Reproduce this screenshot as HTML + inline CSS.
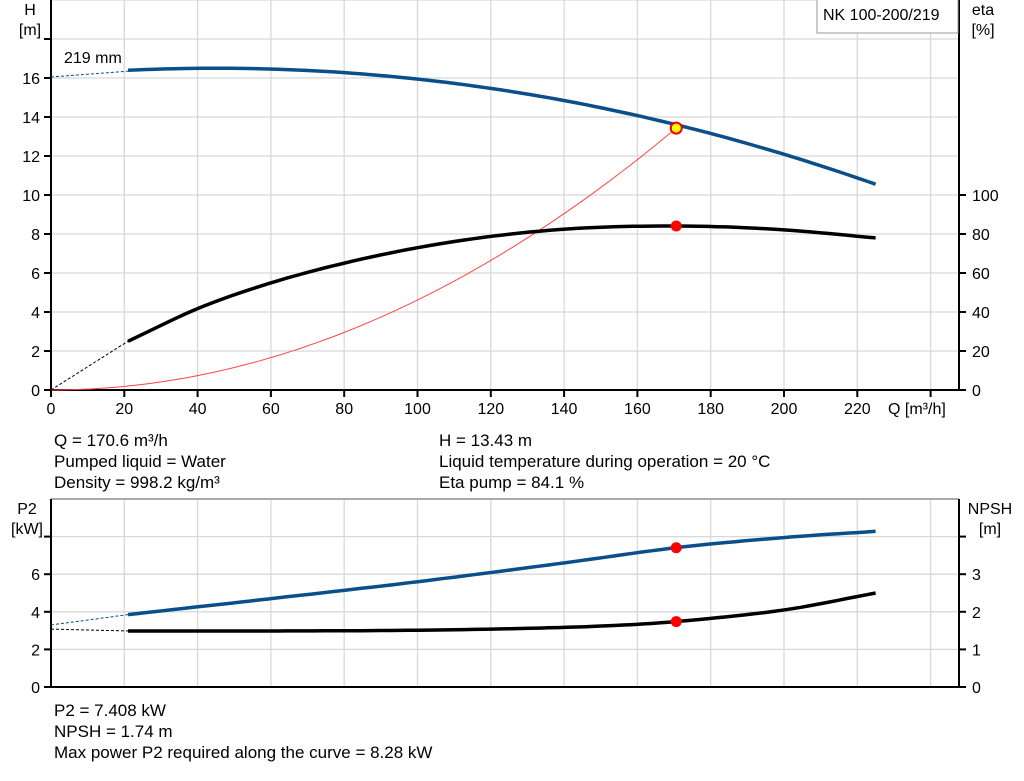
<!DOCTYPE html>
<html><head><meta charset="utf-8"><style>
html,body{margin:0;padding:0;background:#fff;width:1024px;height:781px;overflow:hidden}
svg{display:block;font-family:"Liberation Sans",Arial,sans-serif}
</style></head><body>
<svg id="s" width="1024" height="781" viewBox="0 0 1024 781" xmlns="http://www.w3.org/2000/svg"></svg>
<script>
const S=document.getElementById('s');let h='';
const X=q=>51+q*3.665;
const YH=v=>390-v*19.5, YE=v=>390-v*1.95, YP=v=>687-v*18.8, YN=v=>687-v*37.6;
for(let q=20;q<=240;q+=20){h+=`<line x1="${X(q)}" y1="0" x2="${X(q)}" y2="390" stroke="#d8d8d8" stroke-width="1.3"/>`;
 h+=`<line x1="${X(q)}" y1="499" x2="${X(q)}" y2="687" stroke="#d8d8d8" stroke-width="1.3"/>`;}
for(let v=2;v<=20;v+=2)h+=`<line x1="51" y1="${YH(v)}" x2="959" y2="${YH(v)}" stroke="#d8d8d8" stroke-width="1.3"/>`;
for(let v=2;v<=8;v+=2)h+=`<line x1="51" y1="${YP(v)}" x2="959" y2="${YP(v)}" stroke="#d8d8d8" stroke-width="1.3"/>`;
h+=`<line x1="51" y1="499" x2="959" y2="499" stroke="#aaa" stroke-width="2"/>`;
const ax='stroke="#000" stroke-width="2"';
h+=`<line x1="51" y1="0" x2="51" y2="391" ${ax}/><line x1="959" y1="0" x2="959" y2="391" ${ax}/><line x1="50" y1="390" x2="960" y2="390" ${ax}/>`;
h+=`<line x1="51" y1="499" x2="51" y2="688" ${ax}/><line x1="959" y1="499" x2="959" y2="688" ${ax}/><line x1="50" y1="687" x2="960" y2="687" ${ax}/>`;
const T=(x,y,t,a='end',fs=16)=>`<text x="${x}" y="${y}" font-size="${fs}" text-anchor="${a}" fill="#000">${t}</text>`;
for(let v=0;v<=18;v+=2){h+=`<line x1="44" y1="${YH(v)}" x2="51" y2="${YH(v)}" ${ax}/>`;if(v<=16)h+=T(40,YH(v)+6,v);}
for(let v=0;v<=100;v+=20){h+=`<line x1="959" y1="${YE(v)}" x2="966" y2="${YE(v)}" ${ax}/>`;h+=T(972,YE(v)+6,v,'start');}
for(let q=0;q<=240;q+=20){h+=`<line x1="${X(q)}" y1="390" x2="${X(q)}" y2="397" ${ax}/>`;if(q<=220)h+=T(X(q),414,q,'middle');}
h+=T(888,414,'Q [m³/h]','start');
h+=T(30,15,'H','middle')+T(30,35,'[m]','middle')+T(983,15,'eta','middle')+T(983,35,'[%]','middle');
for(let v=0;v<=8;v+=2){h+=`<line x1="44" y1="${YP(v)}" x2="51" y2="${YP(v)}" ${ax}/>`;if(v<=6)h+=T(40,YP(v)+6,v);}
for(let v=0;v<=4;v++){h+=`<line x1="959" y1="${YN(v)}" x2="966" y2="${YN(v)}" ${ax}/>`;if(v<=3)h+=T(972,YN(v)+6,v,'start');}
h+=T(27,514,'P2','middle')+T(27,534,'[kW]','middle')+T(990,514,'NPSH','middle')+T(990,534,'[m]','middle');
h+=`<rect x="817" y="-1" width="141" height="34" fill="#fff" stroke="#999" stroke-width="1"/>`+T(823,20,'NK 100-200/219','start');
h+=T(64,63,'219 mm','start');
function path(f,Y,a,b,n=80){let p='';for(let i=0;i<=n;i++){const q=a+(b-a)*i/n;p+=(i?'L':'M')+X(q).toFixed(1)+','+Y(f(q)).toFixed(1);}return p;}
function interp(pts){return q=>{for(let i=0;i<pts.length-1;i++){const[a,va]=pts[i],[b,vb]=pts[i+1];if(q<=b){const t=(q-a)/(b-a);
 const m0=i>0?(vb-pts[i-1][1])/(b-pts[i-1][0])*(b-a):vb-va, m1=i<pts.length-2?(pts[i+2][1]-va)/(pts[i+2][0]-a)*(b-a):vb-va;
 const t2=t*t,t3=t2*t;return (2*t3-3*t2+1)*va+(t3-2*t2+t)*m0+(-2*t3+3*t2)*vb+(t3-t2)*m1;}}return pts[pts.length-1][1];};}
const H=q=>16.5-1.836e-4*(q-45)*(q-45);
const E=interp([[21,25],[41,42.5],[61,55.5],[81,65.5],[101,73.3],[121,79],[141,82.6],[161,84],[181,83.8],[201,82],[225,78]]);
const P=interp([[21,3.85],[60,4.7],[100,5.6],[140,6.6],[170.6,7.41],[200,7.95],[225,8.28]]);
const N=interp([[21,1.49],[60,1.49],[100,1.51],[130,1.56],[150,1.62],[170.6,1.74],[200,2.05],[225,2.5]]);
const k=13.43/(170.6*170.6);
h+=`<path d="${path(q=>k*q*q,YH,0,170.6)}" fill="none" stroke="#f44" stroke-width="1"/>`;
h+=`<line x1="${X(0)}" y1="${YH(16.05)}" x2="${X(21)}" y2="${YH(16.35)}" stroke="#0b4f8a" stroke-dasharray="3,2"/>`;
h+=`<line x1="${X(0)}" y1="${YE(0)}" x2="${X(21)}" y2="${YE(25)}" stroke="#000" stroke-dasharray="3,2"/>`;
h+=`<path d="${path(H,YH,21,225)}" fill="none" stroke="#0b4f8a" stroke-width="3.5"/>`;
h+=`<path d="${path(E,YE,21,225)}" fill="none" stroke="#000" stroke-width="3.5"/>`;
h+=`<line x1="${X(0)}" y1="${YP(3.3)}" x2="${X(21)}" y2="${YP(3.85)}" stroke="#0b4f8a" stroke-dasharray="3,2"/>`;
h+=`<line x1="${X(0)}" y1="${YN(1.54)}" x2="${X(21)}" y2="${YN(1.49)}" stroke="#000" stroke-dasharray="3,2"/>`;
h+=`<path d="${path(P,YP,21,225)}" fill="none" stroke="#0b4f8a" stroke-width="3.5"/>`;
h+=`<path d="${path(N,YN,21,225)}" fill="none" stroke="#000" stroke-width="3.5"/>`;
const qx=X(170.6);
h+=`<circle cx="${qx}" cy="${YH(13.43)}" r="5.5" fill="#ff0" stroke="#e00" stroke-width="2"/>`;
h+=`<circle cx="${qx}" cy="${YE(84.1)}" r="5.5" fill="#f00"/>`;
h+=`<circle cx="${qx}" cy="${YP(7.408)}" r="5.5" fill="#f00"/>`;
h+=`<circle cx="${qx}" cy="${YN(1.74)}" r="5.5" fill="#f00"/>`;
const L=(x,y,t)=>T(x,y,t,'start',17);
h+=L(54,446,'Q = 170.6 m³/h')+L(54,467,'Pumped liquid = Water')+L(54,488,'Density = 998.2 kg/m³');
h+=L(439,446,'H = 13.43 m')+L(439,467,'Liquid temperature during operation = 20 °C')+L(439,488,'Eta pump = 84.1 %');
h+=L(54,716,'P2 = 7.408 kW')+L(54,737,'NPSH = 1.74 m')+L(54,758,'Max power P2 required along the curve = 8.28 kW');
S.innerHTML=h;
</script>
</body></html>
